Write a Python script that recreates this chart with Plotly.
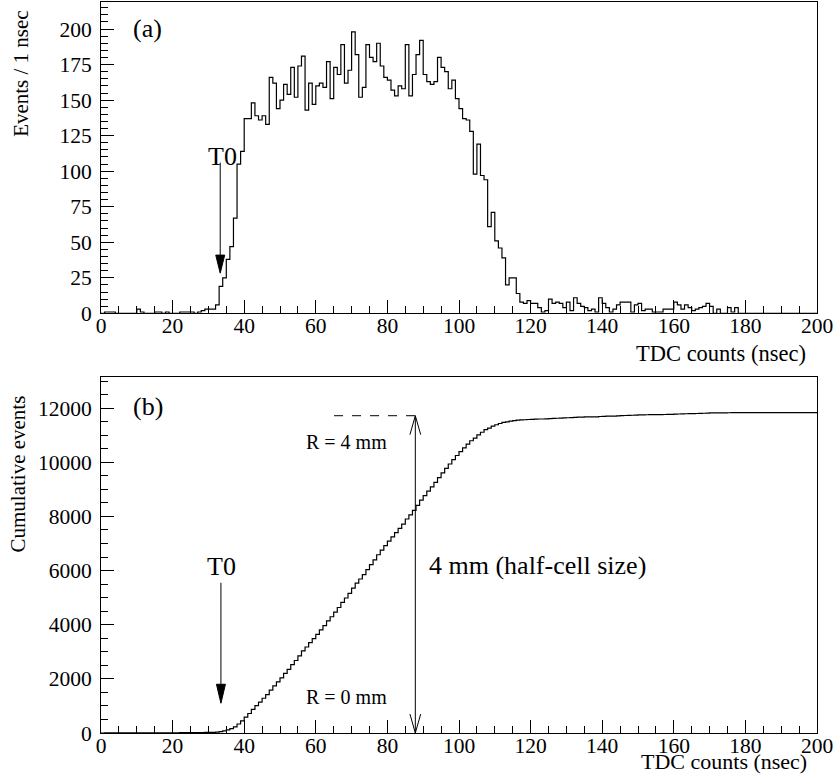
import numpy as np
import plotly.graph_objects as go

# ---------------- data ----------------
bin_edges_ns = list(range(0, 201))          # 1 nsec bins, 0..200
counts = [
    0, 1, 1, 1, 0, 0, 0, 0, 0, 0,
    3, 1, 0, 0, 0, 1, 1, 0, 1, 0,
    0, 0, 1, 1, 1, 1, 0, 1, 2, 3,
    3, 3, 6, 19, 25, 38, 47, 67, 105, 114,
    137, 137, 148, 139, 136, 139, 133, 166, 162, 144,
    150, 161, 154, 173, 152, 174, 181, 143, 162, 147,
    160, 162, 159, 177, 151, 173, 168, 189, 162, 171,
    198, 182, 152, 159, 189, 180, 177, 190, 174, 166,
    164, 157, 153, 160, 158, 189, 153, 168, 182, 192,
    168, 163, 161, 163, 180, 173, 170, 158, 164, 151,
    144, 137, 136, 128, 98, 119, 97, 94, 61, 71,
    51, 46, 39, 20, 25, 25, 14, 8, 7, 9,
    7, 7, 4, 1, 2, 10, 7, 8, 7, 4,
    8, 2, 11, 7, 5, 4, 2, 3, 1, 11,
    7, 4, 1, 3, 6, 8, 8, 8, 1, 6,
    7, 2, 3, 3, 1, 1, 1, 3, 3, 3,
    8, 6, 3, 6, 4, 2, 3, 4, 5, 7,
    5, 0, 3, 0, 0, 4, 1, 4, 0, 0,
    0, 0, 0, 0, 0, 0, 0, 0, 0, 0,
    0, 0, 0, 0, 0, 0, 0, 0, 0, 0,
]
x_ticks = [0, 20, 40, 60, 80, 100, 120, 140, 160, 180, 200]
y1_ticks = [0, 25, 50, 75, 100, 125, 150, 175, 200]
y2_ticks = [0, 2000, 4000, 6000, 8000, 10000, 12000]

# annotation positions (data units)
t0_top = dict(x=33.3, tip=28.3, tail=106.0, label=110.6)
t0_bot = dict(x=33.5, tip=1100.0, tail=5550.0, label=6150.0)
drift_end_ns = 87.8
drift_end_level = 11720
dash_start_ns = 65.1

cumulative = np.cumsum(counts)

FONT = "Liberation Serif, Times New Roman, serif"

fig = go.Figure()
fig.add_trace(go.Scatter(
    x=bin_edges_ns, y=list(counts) + [counts[-1]],
    mode="lines", line=dict(shape="hv", color="black", width=1.2),
    xaxis="x", yaxis="y", showlegend=False, hoverinfo="skip"))
fig.add_trace(go.Scatter(
    x=bin_edges_ns, y=list(cumulative) + [cumulative[-1]],
    mode="lines", line=dict(shape="hv", color="black", width=1.2),
    xaxis="x2", yaxis="y2", showlegend=False, hoverinfo="skip"))

def xax(anchor):
    return dict(
        range=[0, 200], tickvals=x_ticks, ticks="inside", ticklen=13,
        tickwidth=1, tickcolor="black", ticklabelstandoff=-7,
        minor=dict(dtick=5, ticks="inside", ticklen=7, tickcolor="black", tickwidth=1),
        showline=True, linecolor="black", linewidth=1, mirror=True,
        showgrid=False, zeroline=False, anchor=anchor,
        tickfont=dict(family=FONT, size=21.5, color="black"),
        domain=[0, 1])

def yax(anchor, rng, vals, minor_dt, dom):
    return dict(
        range=rng, tickvals=vals, tickformat="d", ticks="inside", ticklen=13,
        tickwidth=1, tickcolor="black", ticklabelstandoff=4,
        minor=dict(dtick=minor_dt, ticks="inside", ticklen=7, tickcolor="black", tickwidth=1),
        showline=True, linecolor="black", linewidth=1, mirror=True,
        showgrid=False, zeroline=False, anchor=anchor,
        tickfont=dict(family=FONT, size=21.5, color="black"),
        domain=dom)

fig.update_layout(
    width=839, height=775,
    margin=dict(l=101, r=22, t=2, b=42),
    paper_bgcolor="white", plot_bgcolor="white",
    xaxis=xax("y"),
    yaxis=yax("x", [0, 219], y1_ticks, 5, [0.574, 1.0]),
    xaxis2=xax("y2"),
    yaxis2=yax("x2", [0, 13150], y2_ticks, 500, [0.0, 0.487]),
    font=dict(family=FONT, color="black"),
)

ann = []
# axis titles
ann.append(dict(text="TDC counts (nsec)", xref="paper", yref="paper", x=0.987, y=0.519,
                xanchor="right", yanchor="middle", showarrow=False,
                font=dict(family=FONT, size=22.5)))
ann.append(dict(text="TDC counts (nsec)", xref="paper", yref="paper", x=0.987, y=-0.0572,
                xanchor="right", yanchor="bottom", showarrow=False, borderpad=0,
                font=dict(family=FONT, size=22)))
ann.append(dict(text="Events / 1 nsec", xref="paper", yref="paper", x=-0.111, y=0.992,
                xanchor="center", yanchor="top", textangle=-90, showarrow=False,
                font=dict(family=FONT, size=21)))
ann.append(dict(text="Cumulative events", xref="paper", yref="paper", x=-0.116, y=0.465,
                xanchor="center", yanchor="top", textangle=-90, showarrow=False,
                font=dict(family=FONT, size=21)))
# panel (a)
ann.append(dict(text="(a)", xref="x", yref="y", x=13.1, y=200.7, showarrow=False,
                font=dict(family=FONT, size=26)))
ann.append(dict(text="T0", xref="x", yref="y", x=33.8, y=t0_top["label"], showarrow=False,
                font=dict(family=FONT, size=26)))
# panel (b)
ann.append(dict(text="(b)", xref="x2", yref="y2", x=13.2, y=12070, showarrow=False,
                font=dict(family=FONT, size=26)))
ann.append(dict(text="T0", xref="x2", yref="y2", x=33.7, y=t0_bot["label"], showarrow=False,
                font=dict(family=FONT, size=26)))
ann.append(dict(text="R = 4 mm", xref="x2", yref="y2", x=68.5, y=10740, showarrow=False,
                font=dict(family=FONT, size=20)))
ann.append(dict(text="R = 0 mm", xref="x2", yref="y2", x=68.5, y=1330, showarrow=False,
                font=dict(family=FONT, size=20)))
ann.append(dict(text="4 mm (half-cell size)", xref="x2", yref="y2", x=91.1, y=6175,
                xanchor="left", showarrow=False, font=dict(family=FONT, size=26)))
fig.update_layout(annotations=ann)

shapes = []
def down_arrow(xr, yr, x, tip, tail, head_dx, head_dy):
    shapes.append(dict(type="line", xref=xr, yref=yr, x0=x, x1=x, y0=tail, y1=tip + head_dy * 0.5,
                       line=dict(color="black", width=1)))
    shapes.append(dict(type="path", xref=xr, yref=yr,
                       path=f"M {x - head_dx},{tip + head_dy} L {x},{tip} L {x + head_dx},{tip + head_dy} Z",
                       fillcolor="black", line=dict(color="black", width=1)))

down_arrow("x", "y", t0_top["x"], t0_top["tip"], t0_top["tail"], 1.25, 12.7)
down_arrow("x2", "y2", t0_bot["x"], t0_bot["tip"], t0_bot["tail"], 1.25, 700)

# double arrow (open heads) between R = 0 and R = 4 mm
shapes.append(dict(type="line", xref="x2", yref="y2", x0=drift_end_ns, x1=drift_end_ns,
                   y0=0, y1=drift_end_level, line=dict(color="black", width=1)))
hdx, hdy = 1.5, 700
shapes.append(dict(type="path", xref="x2", yref="y2",
                   path=f"M {drift_end_ns - hdx},{drift_end_level - hdy} L {drift_end_ns},{drift_end_level} L {drift_end_ns + hdx},{drift_end_level - hdy}",
                   line=dict(color="black", width=1)))
shapes.append(dict(type="path", xref="x2", yref="y2",
                   path=f"M {drift_end_ns - hdx},{hdy} L {drift_end_ns},0 L {drift_end_ns + hdx},{hdy}",
                   line=dict(color="black", width=1)))
shapes.append(dict(type="line", xref="x2", yref="y2", x0=dash_start_ns, x1=drift_end_ns,
                   y0=drift_end_level, y1=drift_end_level,
                   line=dict(color="black", width=1, dash="dash")))
fig.update_layout(shapes=shapes)

fig.write_html("out.html", config={"displayModeBar": False},
               post_script="document.body.style.margin='0';document.body.style.overflow='hidden';")
